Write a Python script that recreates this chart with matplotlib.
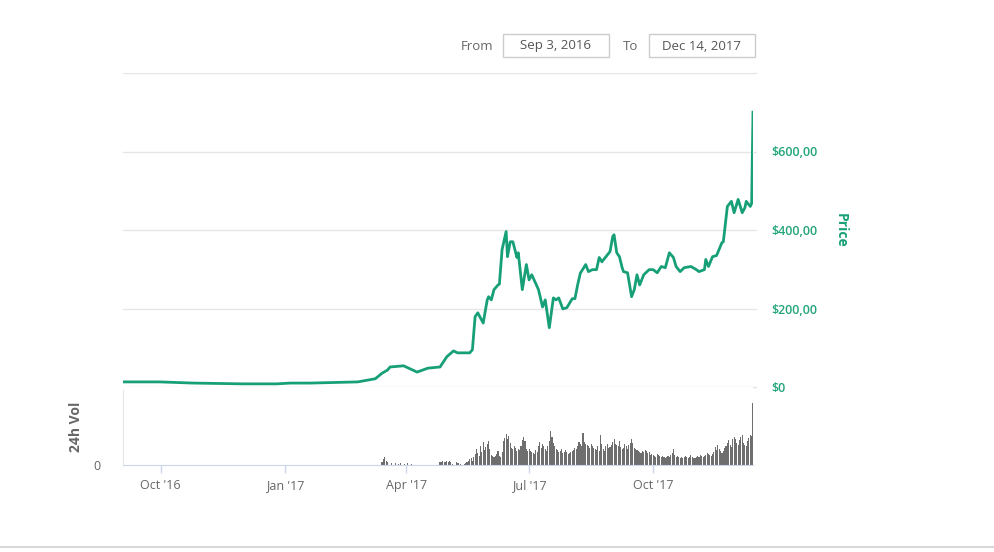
import matplotlib.pyplot as plt
from matplotlib.patches import Rectangle
from matplotlib.lines import Line2D
import pandas as pd

plt.rcParams['font.family'] = ['Open Sans', 'DejaVu Sans']

# price (USD)
price_dates = ['2016-09-03', '2016-09-30', '2016-10-25', '2016-12-01', '2016-12-26', '2017-01-05',
               '2017-01-20', '2017-02-24', '2017-03-09', '2017-03-14', '2017-03-18', '2017-03-20',
               '2017-03-30', '2017-04-09', '2017-04-17', '2017-04-26', '2017-05-01', '2017-05-06',
               '2017-05-09', '2017-05-18', '2017-05-20', '2017-05-22', '2017-05-24', '2017-05-28',
               '2017-05-31', '2017-06-01', '2017-06-03', '2017-06-05', '2017-06-08', '2017-06-09',
               '2017-06-11', '2017-06-14', '2017-06-15', '2017-06-17', '2017-06-19', '2017-06-22',
               '2017-06-23', '2017-06-26', '2017-06-29', '2017-07-01', '2017-07-03', '2017-07-08',
               '2017-07-11', '2017-07-13', '2017-07-16', '2017-07-19', '2017-07-21', '2017-07-23',
               '2017-07-26', '2017-07-29', '2017-08-02', '2017-08-04', '2017-08-06', '2017-08-08',
               '2017-08-12', '2017-08-14', '2017-08-17', '2017-08-20', '2017-08-22', '2017-08-24',
               '2017-08-30', '2017-09-01', '2017-09-02', '2017-09-04', '2017-09-06', '2017-09-08',
               '2017-09-09', '2017-09-12', '2017-09-15', '2017-09-17', '2017-09-19', '2017-09-21',
               '2017-09-24', '2017-09-28', '2017-10-01', '2017-10-04', '2017-10-07', '2017-10-10',
               '2017-10-13', '2017-10-16', '2017-10-18', '2017-10-21', '2017-10-24', '2017-10-29',
               '2017-11-02', '2017-11-04', '2017-11-08', '2017-11-09', '2017-11-11', '2017-11-14',
               '2017-11-17', '2017-11-21', '2017-11-22', '2017-11-25', '2017-11-28', '2017-11-30',
               '2017-12-03', '2017-12-06', '2017-12-08', '2017-12-09', '2017-12-12', '2017-12-13',
               '2017-12-14']
prices = [13, 13, 10, 8, 8, 10, 10, 13, 21, 35,
          43, 51, 54, 38, 48, 51, 77, 92, 87, 87,
          95, 179, 189, 163, 222, 230, 222, 248, 260, 262,
          350, 396, 332, 370, 370, 330, 342, 248, 312, 273,
          286, 248, 204, 222, 151, 227, 222, 227, 199, 202,
          225, 225, 260, 290, 312, 294, 299, 299, 330, 319,
          345, 383, 388, 342, 332, 304, 294, 291, 230, 248,
          286, 260, 286, 299, 299, 291, 307, 304, 342, 330,
          307, 294, 304, 307, 299, 294, 299, 325, 307, 332,
          335, 368, 370, 460, 473, 444, 478, 444, 457, 473,
          460, 468, 700]

# daily 24h volume (USD millions), one list per month, keyed by first day
vol_months = {
    '2017-03-10': [0, 0, 0, 0, 30, 60, 80, 40, 30, 0, 0, 20, 0, 0, 20, 0, 10, 0, 20, 0, 0, 10],
    '2017-04-01': [0, 20, 0, 0, 10, 0, 0, 0, 0, 0, 0, 0, 0, 0, 0, 0, 0, 0, 0, 0, 0, 0, 0, 0, 0,
                   30, 30, 40, 30, 30],
    '2017-05-01': [40, 30, 40, 30, 10, 0, 0, 30, 20, 20, 10, 0, 0, 10, 20, 30, 40, 60, 70, 40,
                   80, 110, 160, 120, 90, 190, 130, 230, 150, 180, 210],
    '2017-06-01': [240, 160, 100, 90, 80, 90, 110, 140, 90, 80, 130, 240, 270, 310, 260, 290, 220,
                   170, 160, 190, 170, 140, 160, 150, 190, 250, 280, 240, 160, 140],
    '2017-07-01': [160, 140, 130, 120, 110, 150, 130, 190, 230, 170, 210, 190, 160, 140, 190, 240,
                   340, 280, 220, 190, 160, 150, 130, 140, 160, 120, 130, 150, 130, 110, 120],
    '2017-08-01': [130, 140, 150, 170, 160, 190, 230, 210, 190, 320, 230, 210, 200, 190, 170, 210,
                   190, 170, 160, 150, 190, 140, 300, 210, 160, 140, 190, 210, 170, 180, 200],
    '2017-09-01': [230, 260, 210, 200, 190, 240, 180, 160, 170, 210, 190, 160, 200, 220, 260, 220,
                   170, 160, 150, 140, 130, 120, 140, 130, 150, 140, 120, 130, 100, 110],
    '2017-10-01': [100, 90, 80, 110, 100, 90, 80, 90, 80, 70, 80, 90, 80, 100, 120, 160, 100, 80,
                   90, 80, 70, 80, 70, 80, 90, 80, 70, 80, 100, 80, 70],
    '2017-11-01': [70, 80, 90, 80, 100, 90, 80, 90, 100, 120, 110, 100, 90, 110, 130, 180, 150,
                   200, 160, 140, 120, 140, 170, 190, 220, 250, 200, 180, 260, 280],
    '2017-12-01': [260, 220, 200, 250, 280, 300, 220, 200, 190, 240, 270, 300, 290, 620],
}

tick_dates = ['2016-10-01', '2017-01-01', '2017-04-01', '2017-07-01', '2017-10-01']
tick_labels = ["Oct '16", "Jan '17", "Apr '17", "Jul '17", "Oct '17"]
price_ticks = [0, 200, 400, 600, 800]
price_labels = ['$0', '$200,00', '$400,00', '$600,00', '']

green = '#17a077'
grey = '#666666'
grid = '#e6e6e6'

W, H = 994, 552
fig = plt.figure(figsize=(W / 100, H / 100), dpi=100)


def box(x0, y0, x1, y1):
    return [x0 / W, 1 - y1 / H, (x1 - x0) / W, (y1 - y0) / H]


start = pd.Timestamp('2016-09-03')
end = pd.Timestamp('2017-12-14')

# price panel
ax = fig.add_axes(box(123, 73, 753, 387))
ax.plot(pd.to_datetime(price_dates), prices, color=green, lw=2, solid_joinstyle='round')
ax.set_xlim(start, end)
ax.set_ylim(0, 800)
ax.set_yticks(price_ticks)
ax.set_yticklabels(price_labels)
ax.yaxis.tick_right()
ax.tick_params(axis='y', length=0, pad=13, labelcolor='#25a57c', labelsize=9)
for lab in ax.get_yticklabels():
    lab.set_fontweight('semibold')
ax.set_xticks([])
ax.grid(axis='y', color=grid, lw=1)
ax.set_axisbelow(True)
for s in ax.spines.values():
    s.set_visible(False)
for yv in price_ticks:
    ax.add_line(Line2D([1.0, 1.004], [yv, yv], transform=ax.get_yaxis_transform(),
                       color=grid, lw=1, clip_on=False))
fig.text(841 / W, 1 - 230 / H, 'Price', rotation=270, ha='center', va='center',
         color=green, fontsize=10, fontweight='bold')

# volume panel
axv = fig.add_axes(box(123, 390, 753, 465))
for first, vals in vol_months.items():
    days = pd.date_range(first, periods=len(vals), freq='D')
    axv.bar(days, vals, width=0.8, color='#6e6e6e', edgecolor='none')
axv.set_xlim(start, end)
axv.set_ylim(0, 750)
axv.set_yticks([0])
axv.set_yticklabels(['0'])
axv.tick_params(axis='y', length=0, pad=16, labelcolor=grey, labelsize=9)
axv.set_xticks(pd.to_datetime(tick_dates))
axv.set_xticklabels(tick_labels)
axv.tick_params(axis='x', length=6, width=1, color='#ccd6eb', labelcolor=grey,
                labelsize=9, pad=4)
for s in ['top', 'right']:
    axv.spines[s].set_visible(False)
axv.spines['bottom'].set_color('#ccd6eb')
axv.spines['left'].set_color('#e6e6e6')
fig.text(76 / W, 1 - 427 / H, '24h Vol', rotation=90, ha='center', va='center',
         color=grey, fontsize=10, fontweight='bold')

# date range inputs
fig.text(477 / W, 1 - 46 / H, 'From', ha='center', va='center', color=grey, fontsize=9.5)
fig.text(631 / W, 1 - 46 / H, 'To', ha='center', va='center', color=grey, fontsize=9.5)
for (x0, x1), txt in [((503, 609), 'Sep 3, 2016'), ((649, 755), 'Dec 14, 2017')]:
    fig.patches.append(Rectangle((x0 / W, 1 - 57 / H), (x1 - x0) / W, 23 / H,
                                 transform=fig.transFigure, fill=False,
                                 edgecolor='#cccccc', lw=1))
    fig.text((x0 + x1) / 2 / W, 1 - 46 / H, txt, ha='center', va='center',
             color='#555555', fontsize=9.5)

# bottom separator
fig.add_artist(Line2D([0, 1], [1 - 547 / H, 1 - 547 / H], transform=fig.transFigure,
                      color='#d0d0d0', lw=1.2))

fig.savefig('out.png', dpi=100, facecolor='white')
